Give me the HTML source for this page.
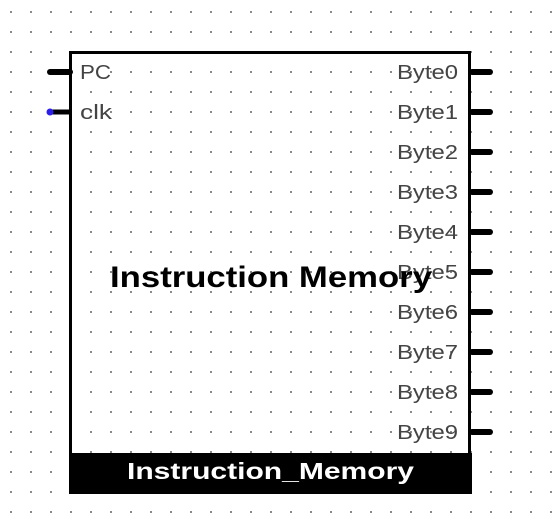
<!DOCTYPE html>
<html><head><style>
html,body{margin:0;padding:0;background:#fff;}
svg{display:block;}
</style></head><body>
<svg width="552" height="530" xmlns="http://www.w3.org/2000/svg">
<defs>
<pattern id="g" x="0" y="0" width="20" height="20" patternUnits="userSpaceOnUse">
<rect x="10" y="11" width="2" height="2" fill="#8a8a8a"/>
</pattern>
</defs>
<rect width="552" height="530" fill="#fff"/>
<rect width="552" height="530" fill="url(#g)"/>
<rect x="70.5" y="52.5" width="399" height="440" fill="none" stroke="#000" stroke-width="3"/>
<rect x="70" y="453" width="402" height="41" fill="#000"/>
<g stroke="#000" stroke-width="6" stroke-linecap="round">
<line x1="50" y1="72" x2="70" y2="72"/>
<line x1="472" y1="72" x2="490" y2="72"/>
<line x1="472" y1="112" x2="490" y2="112"/>
<line x1="472" y1="152" x2="490" y2="152"/>
<line x1="472" y1="192" x2="490" y2="192"/>
<line x1="472" y1="232" x2="490" y2="232"/>
<line x1="472" y1="272" x2="490" y2="272"/>
<line x1="472" y1="312" x2="490" y2="312"/>
<line x1="472" y1="352" x2="490" y2="352"/>
<line x1="472" y1="392" x2="490" y2="392"/>
<line x1="472" y1="432" x2="490" y2="432"/>
</g>
<line x1="50" y1="112" x2="70" y2="112" stroke="#000" stroke-width="5"/>
<circle cx="50" cy="112" r="3.5" fill="#2a1fe8"/>
<g font-family="Liberation Sans, sans-serif" font-size="20" fill="#444">
<text x="80" y="79" textLength="31" lengthAdjust="spacingAndGlyphs">PC</text>
<text x="80" y="119" textLength="32" lengthAdjust="spacingAndGlyphs">clk</text>
<g lengthAdjust="spacingAndGlyphs">
<text x="397" y="79" textLength="61" lengthAdjust="spacingAndGlyphs">Byte0</text>
<text x="397" y="119" textLength="61" lengthAdjust="spacingAndGlyphs">Byte1</text>
<text x="397" y="159" textLength="61" lengthAdjust="spacingAndGlyphs">Byte2</text>
<text x="397" y="199" textLength="61" lengthAdjust="spacingAndGlyphs">Byte3</text>
<text x="397" y="239" textLength="61" lengthAdjust="spacingAndGlyphs">Byte4</text>
<text x="397" y="279" textLength="61" lengthAdjust="spacingAndGlyphs">Byte5</text>
<text x="397" y="319" textLength="61" lengthAdjust="spacingAndGlyphs">Byte6</text>
<text x="397" y="359" textLength="61" lengthAdjust="spacingAndGlyphs">Byte7</text>
<text x="397" y="399" textLength="61" lengthAdjust="spacingAndGlyphs">Byte8</text>
<text x="397" y="439" textLength="61" lengthAdjust="spacingAndGlyphs">Byte9</text>
</g>
</g>
<text x="110" y="287" font-family="Liberation Sans, sans-serif" font-weight="bold" font-size="30" fill="#000" textLength="322" lengthAdjust="spacingAndGlyphs">Instruction Memory</text>
<text x="127" y="479" font-family="Liberation Sans, sans-serif" font-weight="bold" font-size="23" fill="#fff" textLength="287" lengthAdjust="spacingAndGlyphs">Instruction_Memory</text>
</svg>
</body></html>
